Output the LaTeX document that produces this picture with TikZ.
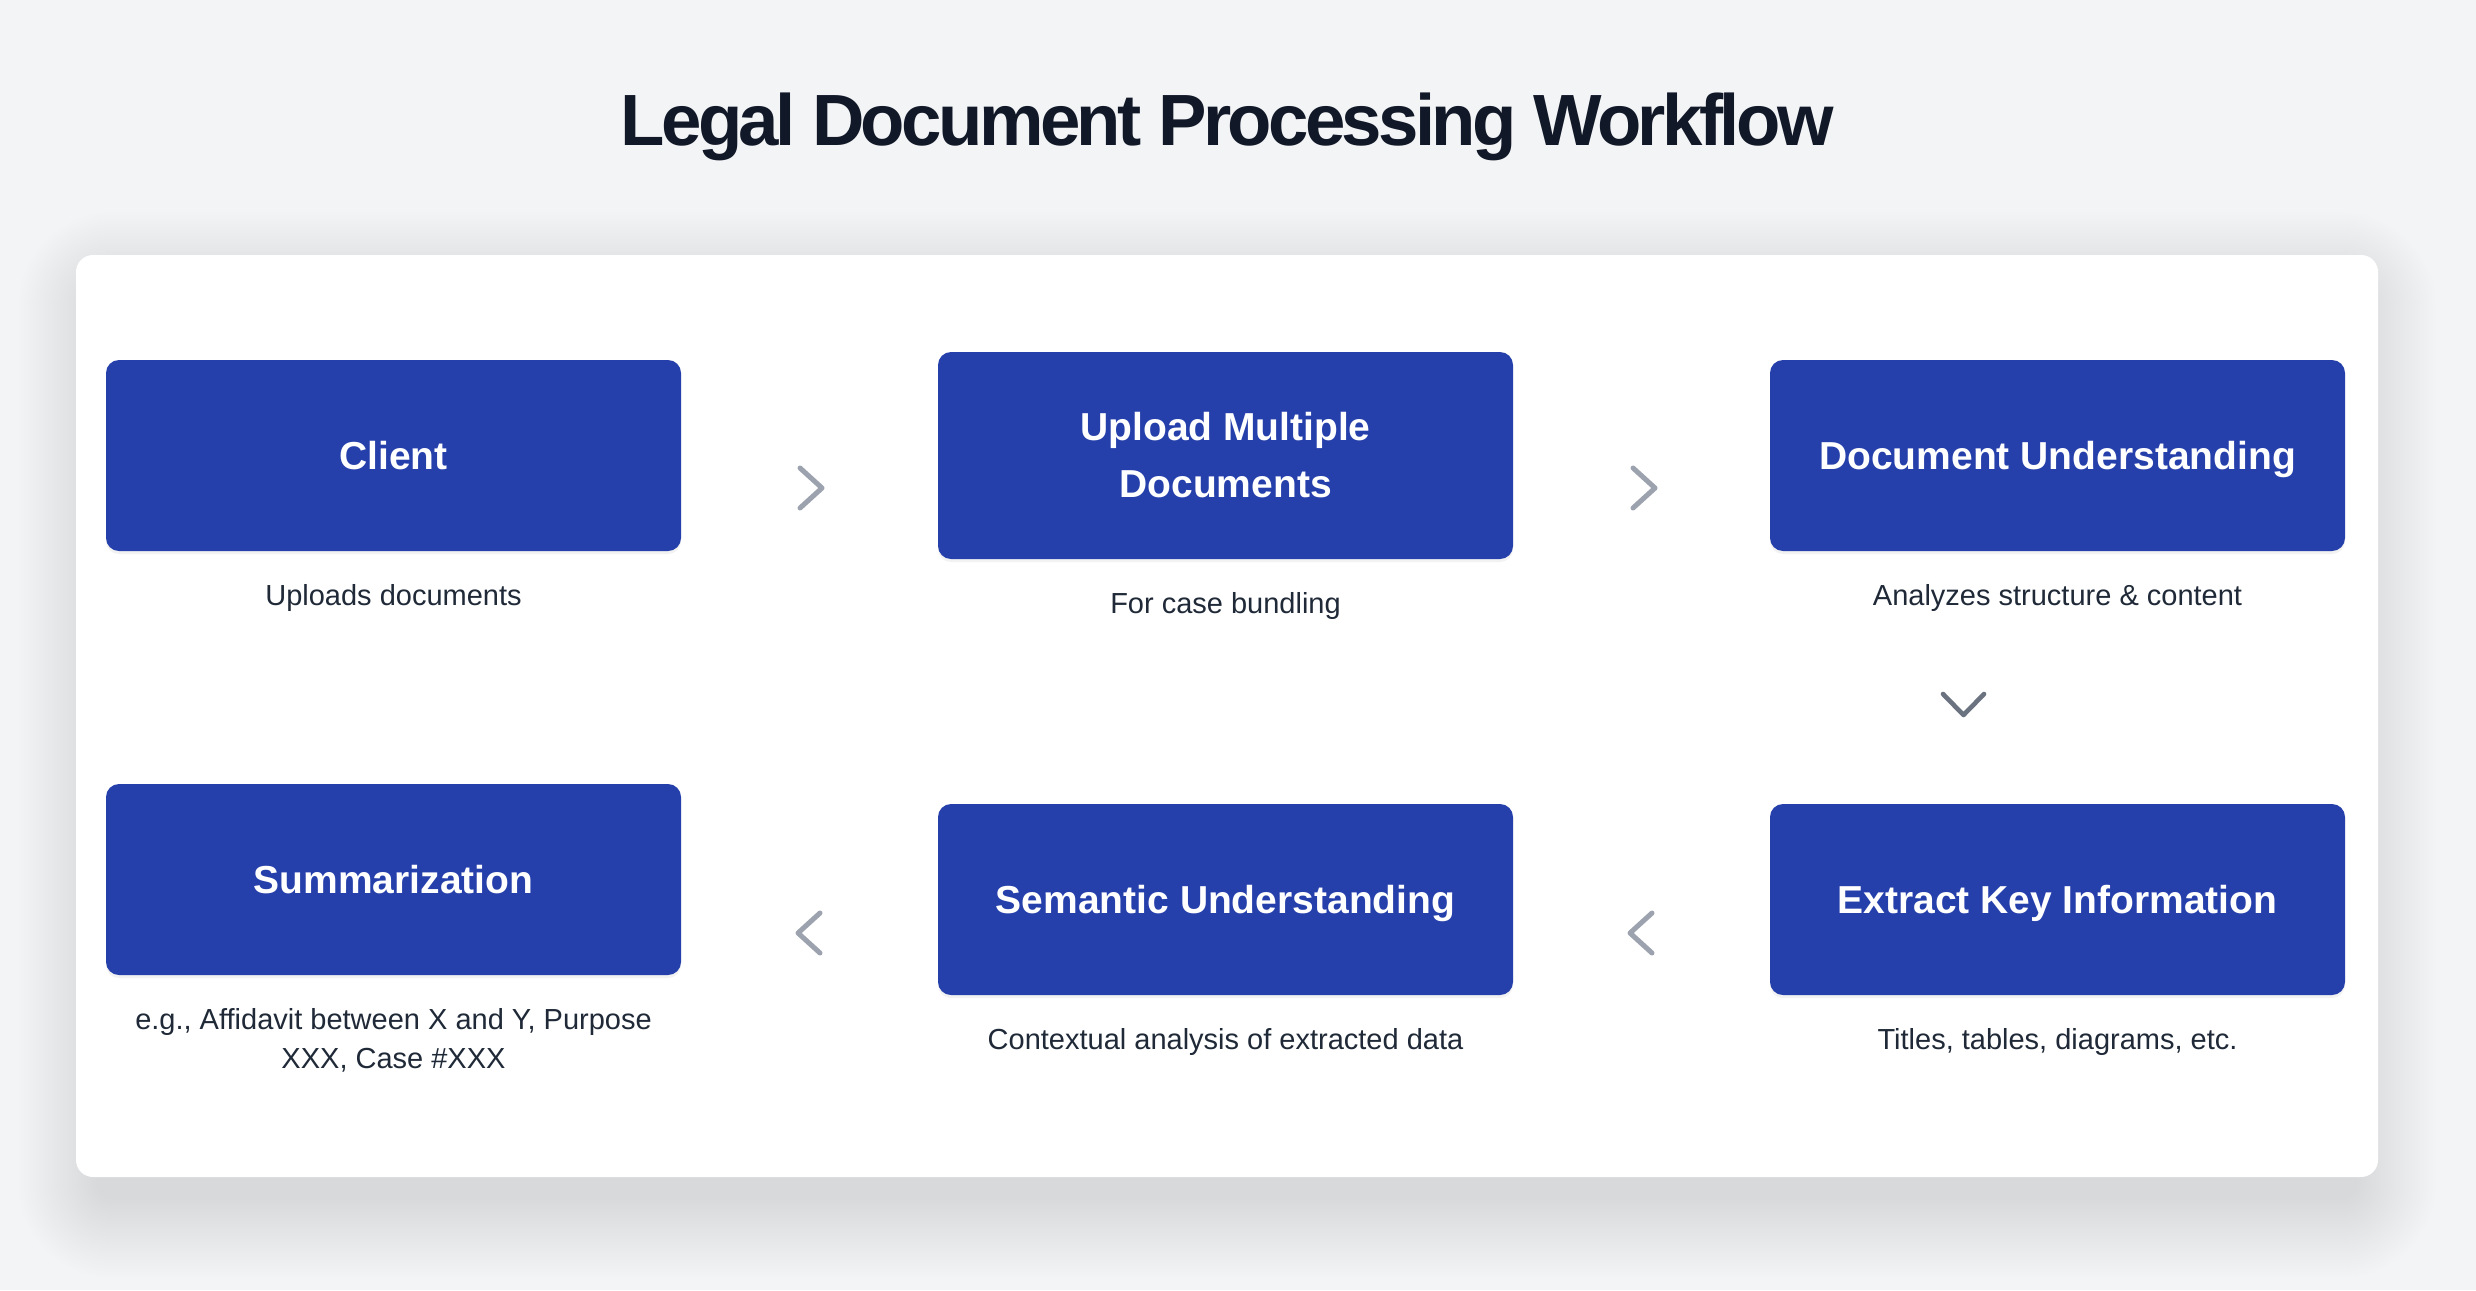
\documentclass[tikz,border=0pt]{standalone}
\usepackage{fontspec}
\setmainfont{Liberation Sans}
\newfontfamily\titlefont[LetterSpace=-5]{Liberation Sans}
\usetikzlibrary{shadows}
\definecolor{bg}{HTML}{F3F4F6}
\definecolor{boxblue}{RGB}{38,64,171}
\definecolor{titlec}{HTML}{111827}
\definecolor{capc}{HTML}{1F2937}
\definecolor{chev}{HTML}{9CA3AF}
\definecolor{chevdark}{HTML}{6B7280}
\tikzset{
  stepbox/.style={fill=boxblue, rounded corners=6.5pt, minimum width=287.5pt,
    minimum height=95.5pt, inner sep=0pt, text=white, align=center,
    font=\fontsize{19.5}{28.5}\selectfont\bfseries,
    drop shadow={opacity=0.10, shadow xshift=0pt, shadow yshift=-1.5pt}},
  oneline/.style={text height=14pt, text depth=0pt},
  captxt/.style={anchor=base, text=capc, inner sep=0pt,
    font=\fontsize{14.5}{19}\selectfont},
  chevline/.style={draw=chev, line width=2.5pt, line cap=round, line join=round},
  chevdown/.style={draw=chevdark, line width=2.3pt, line cap=round, line join=round}
}
\begin{document}
\begin{tikzpicture}[x=0.5pt,y=-0.5pt]
\fill[bg] (0,0) rectangle (2476,1290);
\useasboundingbox (0,0) rectangle (2476,1290);
% panel shadow
\foreach \i [evaluate=\i as \r using 8.5+1.5*\i] in {0,...,26}{
  \fill[black,opacity=0.0045,rounded corners=\r pt]
    ({96-3*\i},{290-3*\i}) rectangle ({2358+3*\i},{1200+3*\i});
}
% panel
\fill[white, rounded corners=8.5pt] (76,255) rectangle (2378,1177);
% title
\node[anchor=base, text=titlec, inner sep=0pt,
  font=\titlefont\fontsize{36.3}{40}\selectfont\bfseries] (title) at (1227,145)
  {Legal Document Processing Workflow};
% boxes
\node[stepbox, oneline] (client) at (393.5,455.5) {Client};
\node[stepbox, minimum height=103.5pt] (upload) at (1225.5,455.5) {Upload Multiple\\Documents};
\node[stepbox, oneline] (docu) at (2057.5,455.5) {Document Understanding};
\node[stepbox, oneline] (summ) at (393.5,879.5) {Summarization};
\node[stepbox, oneline] (sem) at (1225.5,899.5) {Semantic Understanding};
\node[stepbox, oneline] (ext) at (2057.5,899.5) {Extract Key Information};
% captions
\node[captxt] (clientcap) at (393.5,605) {Uploads documents};
\node[captxt] (uploadcap) at (1225.5,613) {For case bundling};
\node[captxt] (docucap) at (2057.5,605) {Analyzes structure \& content};
\node[captxt] (summcapa) at (393.5,1029) {e.g., Affidavit between X and Y, Purpose};
\node[captxt] (summcapb) at (393.5,1068) {XXX, Case \#XXX};
\node[captxt] (semcap) at (1225.5,1049.5) {Contextual analysis of extracted data};
\node[captxt] (extcap) at (2057.5,1049.5) {Titles, tables, diagrams, etc.};
% chevrons
\draw[chevline] (800,468) -- (822,488) -- (800,508);
\draw[chevline] (1633,468) -- (1655,488) -- (1633,508);
\draw[chevdown] (1943,694) -- (1963.5,715) -- (1984,694);
\draw[chevline] (820,913) -- (798,933) -- (820,953);
\draw[chevline] (1652,913) -- (1630,933) -- (1652,953);
\end{tikzpicture}
\end{document}
